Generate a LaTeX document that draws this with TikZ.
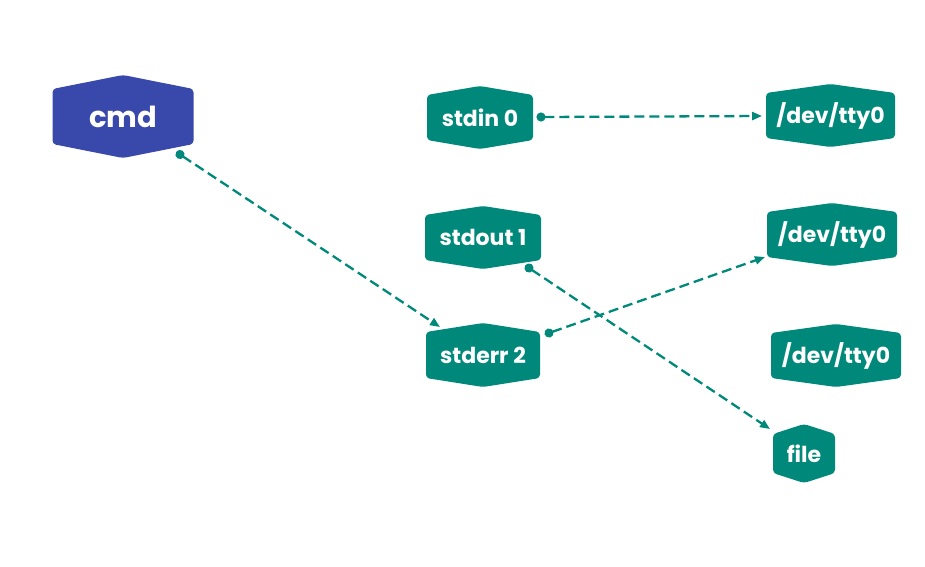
\documentclass[tikz,border=0pt]{standalone}
\usepackage{fontspec}
\setmainfont{Poppins}
\usetikzlibrary{calc,arrows.meta}
\definecolor{tealc}{HTML}{00897B}
\definecolor{bluec}{HTML}{3949AB}
\tikzset{
  hexbox/.style n args={4}{
    rectangle, inner sep=0pt, minimum width=#1, minimum height=#2, text=white,
    font=\bfseries\fontsize{22}{22}\selectfont,
    path picture={
      \fill[#4, rounded corners=3.5pt]
        ([yshift=-#3]path picture bounding box.north west) --
        (path picture bounding box.north) --
        ([yshift=-#3]path picture bounding box.north east) --
        ([yshift=#3]path picture bounding box.south east) --
        (path picture bounding box.south) --
        ([yshift=#3]path picture bounding box.south west) -- cycle;
    }},
  conn/.style={tealc, line width=2.3pt, dash pattern=on 10pt off 5pt,
    {Circle[length=9pt,width=9pt,sep=-4.5pt]}-{Triangle[length=10pt,width=8pt]}}
}
\begin{document}
\begin{tikzpicture}[x=1pt,y=-1pt]
\useasboundingbox (0,0) rectangle (925,566);
\node[hexbox={141pt}{83pt}{14pt}{bluec}, font=\bfseries\fontsize{29}{29}\selectfont] (cmd) at (123,116.5) {cmd};
\node[hexbox={106pt}{63pt}{9pt}{tealc}] (stdin) at (480,117.5) {stdin 0};
\node[hexbox={116pt}{63pt}{9pt}{tealc}] (stdout) at (483,237.5) {stdout 1};
\node[hexbox={114pt}{64pt}{9pt}{tealc}] (stderr) at (483,355) {stderr 2};
\node[hexbox={129pt}{63pt}{9pt}{tealc}] (ttya) at (830.5,115.5) {/dev/tty0};
\node[hexbox={130pt}{63pt}{9pt}{tealc}] (ttyb) at (832,234.5) {/dev/tty0};
\node[hexbox={130pt}{63pt}{9pt}{tealc}] (ttyc) at (836,355.5) {/dev/tty0};
\node[hexbox={62pt}{59pt}{10pt}{tealc}] (file) at (804,453.5) {file};
\draw[conn] ($(cmd.center)+(57,38)$) -- ($(stderr.center)+(-43,-28)$);
\draw[conn] ($(stdin.center)+(61,-0.5)$) -- ($(ttya.center)+(-68.5,0.5)$);
\draw[conn] ($(stdout.center)+(46,30.5)$) -- ($(file.center)+(-34,-24.5)$);
\draw[conn] ($(stderr.center)+(66,-22)$) -- ($(ttyb.center)+(-67,22.5)$);
\end{tikzpicture}
\end{document}
